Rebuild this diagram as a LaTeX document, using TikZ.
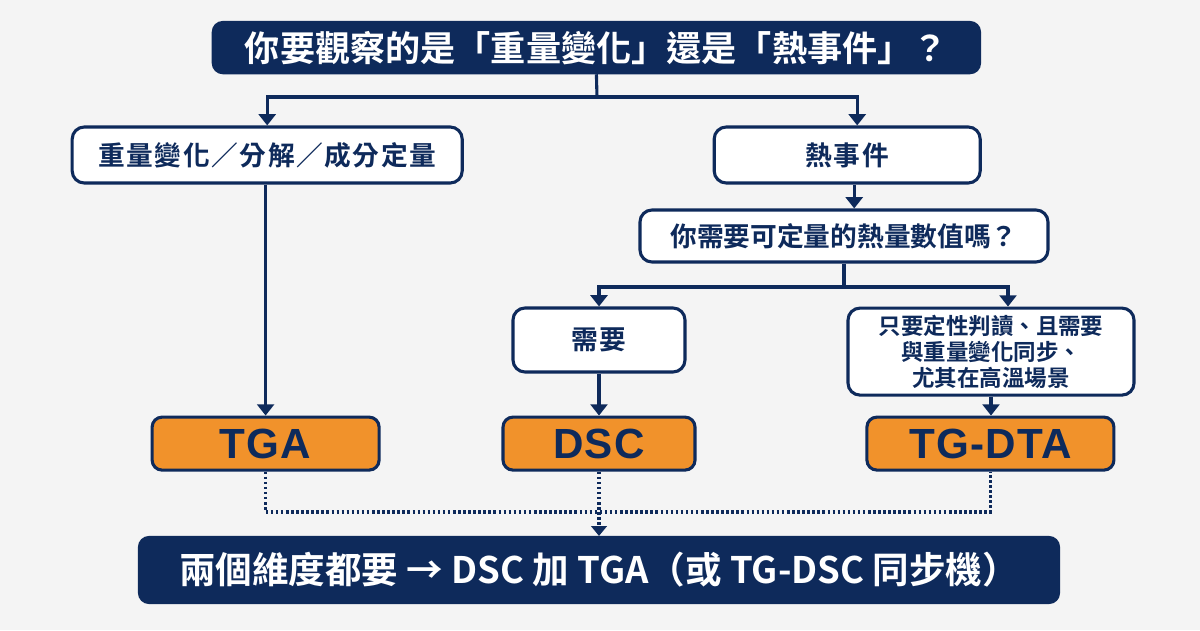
\documentclass[tikz,border=0pt]{standalone}
\usepackage{fontspec}
\usepackage{xcolor}
\usetikzlibrary{arrows.meta}
\setmainfont{Noto Sans CJK TC Bold}
\newfontfamily\widefont{Noto Sans CJK TC Bold}[LetterSpace=6]
\newfontfamily\tagfont{Liberation Sans Bold}[LetterSpace=3]
\definecolor{navy}{HTML}{0E2A5B}
\definecolor{amber}{HTML}{F1922B}
\definecolor{paper}{HTML}{F4F4F4}

\begin{document}
\begin{tikzpicture}[x=1cm,y=1cm,
  banner/.style={draw=navy, fill=navy, text=white, rounded corners=0.25cm, line width=1.5pt, inner sep=0pt},
  choice/.style={draw=navy, fill=white, text=navy, rounded corners=0.3cm, line width=2.2pt, inner sep=0pt},
  result/.style={draw=navy, fill=amber, text=navy, rounded corners=0.25cm, line width=2.2pt, inner sep=0pt,
    font=\tagfont\fontsize{30}{32}\selectfont},
  link/.style={draw=navy, line width=2.2pt, -{Triangle[width=12pt,length=8pt]}},
  merge/.style={draw=navy, line width=2.2pt, dash pattern=on 1.8pt off 1.8pt}]
\fill[paper] (0,0) rectangle (30,15.75);
\useasboundingbox (0,0) rectangle (30,15.75);
% rows of boxes
\node[banner, minimum width=19.18cm, minimum height=1.28cm, font=\fontsize{25}{28}\selectfont] (top) at (14.91,14.56) {你要觀察的是「重量變化」還是「熱事件」？};
\node[choice, minimum width=9.75cm, minimum height=1.4cm, font=\widefont\fontsize{19}{22}\selectfont] (mass) at (6.68,11.875) {重量變化／分解／成分定量};
\node[choice, minimum width=6.65cm, minimum height=1.4cm, font=\widefont\fontsize{19}{22}\selectfont] (heat) at (21.18,11.875) {熱事件};
\node[choice, minimum width=10.2cm, minimum height=1.3cm, font=\fontsize{19}{22}\selectfont] (quant) at (21.1,9.85) {你需要可定量的熱量數值嗎？};
\node[choice, minimum width=4.3cm, minimum height=1.6cm, font=\widefont\fontsize{19}{22}\selectfont] (need) at (14.975,7.25) {需要};
\node[choice, minimum width=7.15cm, minimum height=2.175cm, align=center, font=\fontsize{16}{18.5}\selectfont] (only) at (24.775,6.96) {只要定性判讀、且需要\\與重量變化同步、\\尤其在高溫場景};
\node[result, minimum width=5.675cm, minimum height=1.325cm] (tga) at (6.64,4.66) {TGA};
\node[result, minimum width=4.8cm, minimum height=1.325cm] (dsc) at (14.975,4.66) {DSC};
\node[result, minimum width=6.175cm, minimum height=1.325cm] (tgdta) at (24.76,4.66) {TG-DTA};
\node[banner, minimum width=23cm, minimum height=1.65cm, font=\fontsize{26}{29}\selectfont] (both) at (14.975,1.5) {兩個維度都要 → DSC 加 TGA（或 TG-DSC 同步機）};
% connectors
\coordinate (split1) at (14.925,13.325);
\coordinate (split2) at (21.1,8.575);
\coordinate (join) at (14.975,2.95);
\draw[link, -] (top.south) -- (split1);
\draw[link] (split1) -| (mass.north);
\draw[link] (split1) -| ([xshift=0.25cm]heat.north);
\draw[link] ([xshift=0.175cm]heat.south) -- ([xshift=0.175cm]heat.south |- quant.north);
\draw[link, -] (quant.south) -- (split2);
\draw[link] (split2) -| (need.north);
\draw[link] (split2) -| ([xshift=0.425cm]only.north);
\draw[link] (tga.north |- mass.south) -- (tga.north);
\draw[link] (need.south) -- (dsc.north);
\draw[link] (only.south) -- (only.south |- tgdta.north);
\draw[merge] (tga.south) |- (join) -| (tgdta.south);
\draw[merge, -{Triangle[width=11pt,length=7pt]}] (dsc.south) -- (both.north);
\end{tikzpicture}
\end{document}
